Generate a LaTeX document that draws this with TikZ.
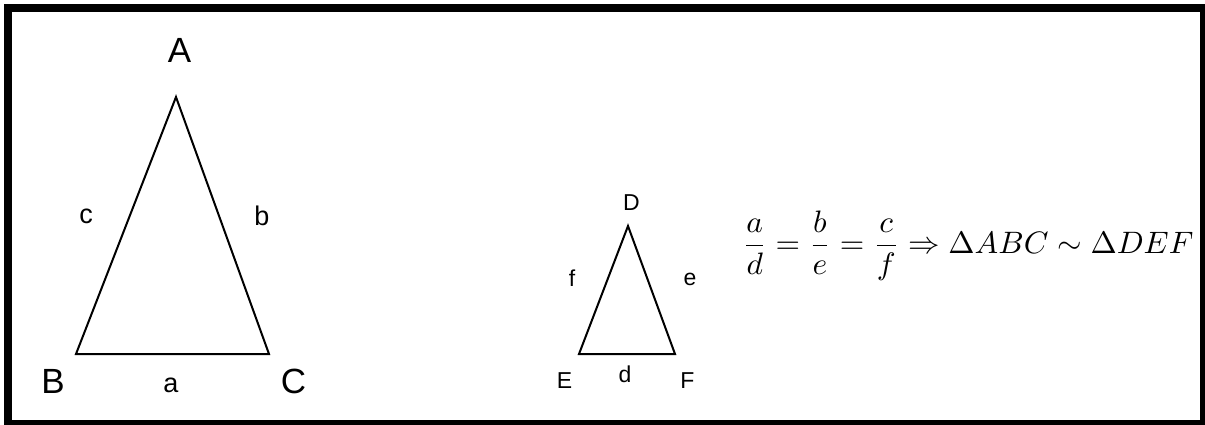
\documentclass[tikz,border=0pt]{standalone}
\usepackage{amsmath,amssymb}
\usepackage{fontspec}
\newfontfamily\lblfont{Liberation Sans}
\usetikzlibrary{positioning}

\begin{document}
\begin{tikzpicture}[
    x=1pt, y=-1pt,
    side/.style={line width=2pt, line join=miter},
    vbig/.style={font=\lblfont\fontsize{35}{35}\selectfont, inner sep=0pt},
    lbig/.style={font=\lblfont\fontsize{27}{27}\selectfont, inner sep=0pt},
    vsmall/.style={font=\lblfont\fontsize{23}{23}\selectfont, inner sep=0pt}
]
    \useasboundingbox (0,0) rectangle (1205,425);
    \fill[white] (0,0) rectangle (1205,425);
    \draw[line width=8pt] (8,8) rectangle (1203.5,423.5);

    % big triangle
    \coordinate (A) at (176,97);
    \coordinate (B) at (76,354);
    \coordinate (C) at (269,354);
    \draw[side] (A) -- (B) -- (C) -- cycle;

    \node[vbig] (lA) at (179.5,50) {A};
    \node[vbig] (lB) at (53,381.5) {B};
    \node[vbig] (lC) at (293.5,381.5) {C};
    \node[lbig] (la) at (171,385) {a};
    \node[lbig] (lb) at (262,215.5) {b};
    \node[lbig] (lc) at (86,216) {c};

    % small triangle
    \coordinate (D) at (628,226);
    \coordinate (E) at (579,354);
    \coordinate (F) at (675,354);
    \draw[side] (D) -- (E) -- (F) -- cycle;

    \node[vsmall] (lD) at (631.5,202.5) {D};
    \node[vsmall] (lE) at (564.5,381) {E};
    \node[vsmall] (lF) at (687.5,381) {F};
    \node[vsmall] (ld) at (625,374) {d};
    \node[vsmall] (le) at (690,279.5) {e};
    \node[vsmall] (lf) at (572,278.5) {f};

    % ratio of sides
    \node[anchor=base west, inner sep=0pt, xscale=3.15, yscale=3.1, transform shape] (ratio) at (742,253)
        {$\dfrac{a}{d}=\dfrac{b}{e}=\dfrac{c}{f}\Rightarrow\Delta ABC \sim \Delta DEF$};
\end{tikzpicture}
\end{document}
